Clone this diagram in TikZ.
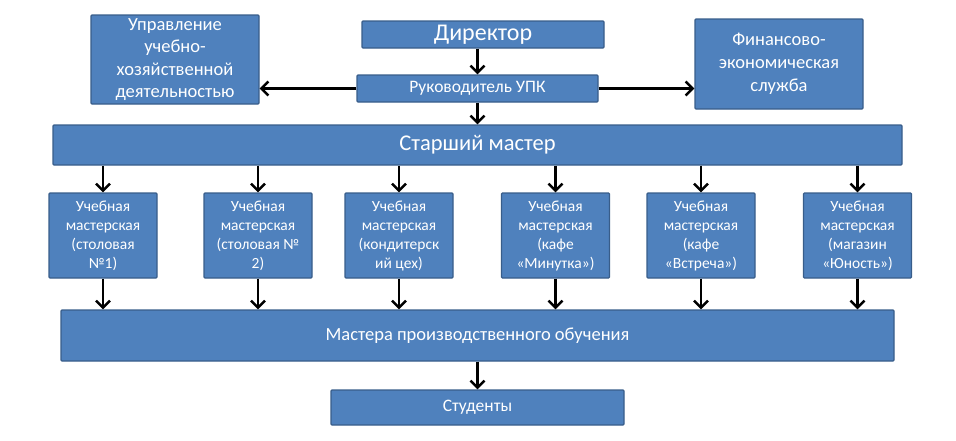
\documentclass[tikz,border=0pt]{standalone}
\usepackage{fontspec}
\usetikzlibrary{arrows.meta}
\setmainfont{Carlito}
\definecolor{boxfill}{HTML}{4F81BD}
\definecolor{boxline}{HTML}{385D8A}
\begin{document}
\begin{tikzpicture}[x=1pt,y=-1pt,>={Straight Barb[length=7pt,width=14pt]},
  blok/.style={draw=boxline,line width=1.2pt,fill=boxfill,text=white,
    align=center,inner sep=0pt,rounded corners=1pt},
  ucheb/.style={blok,minimum width=108pt,minimum height=85pt,
    font=\fontsize{15.5}{19}\selectfont},
  arr/.style={->,line width=2.5pt}]
\useasboundingbox (0,0) rectangle (956,440);

\node[blok,minimum width=168pt,minimum height=89pt,
  font=\fontsize{18.5}{22.5}\selectfont] (upr) at (175,59.5)
  {Управление\\учебно-\\хозяйственной\\деятельностью};
\node[blok,minimum width=242pt,minimum height=27pt,
  font=\fontsize{24}{26}\selectfont] (dir) at (483,34.5) {Директор};
\node[blok,minimum width=241pt,minimum height=27pt,
  font=\fontsize{17.5}{19}\selectfont] (ruk) at (477.5,88.5) {Руководитель УПК};
\node[blok,minimum width=168pt,minimum height=90pt,
  font=\fontsize{18.5}{23}\selectfont] (fin) at (779,64)
  {Финансово-\\экономическая\\служба};
\node[blok,minimum width=849pt,minimum height=40pt,
  font=\fontsize{22.5}{24}\selectfont] (star) at (477.5,145) {Старший мастер};

\foreach \n/\x/\txt in {
  1/103/{(столовая\\№1)},
  2/258/{(столовая №\\2)},
  3/399/{(кондитерск\\ий цех)},
  4/555.5/{(кафе\\«Минутка»)},
  5/701/{(кафе\\«Встреча»)},
  6/857.5/{(магазин\\«Юность»)}}
  \node[ucheb] (w\n) at (\x,235.5) {Учебная\\мастерская\\\txt};

\node[blok,minimum width=833pt,minimum height=51pt,
  font=\fontsize{18.5}{20}\selectfont] (mas) at (477.5,335.5)
  {Мастера производственного обучения};
\node[blok,minimum width=293pt,minimum height=35pt,
  font=\fontsize{17.5}{19}\selectfont] (stu) at (477.5,407.5) {Студенты};

\draw[arr] (ruk.north |- dir.south) -- (ruk.north);
\draw[arr] (ruk.south) -- (ruk.south |- star.north);
\draw[arr] (ruk.west) -- (ruk.west -| upr.east);
\draw[arr] (ruk.east) -- (ruk.east -| fin.west);
\foreach \n in {1,...,6} {
\draw[arr] (w\n.north |- star.south) -- (w\n.north);
\draw[arr] (w\n.south) -- (w\n.south |- mas.north);
}
\draw[arr] (stu.north |- mas.south) -- (stu.north);

\end{tikzpicture}
\end{document}
